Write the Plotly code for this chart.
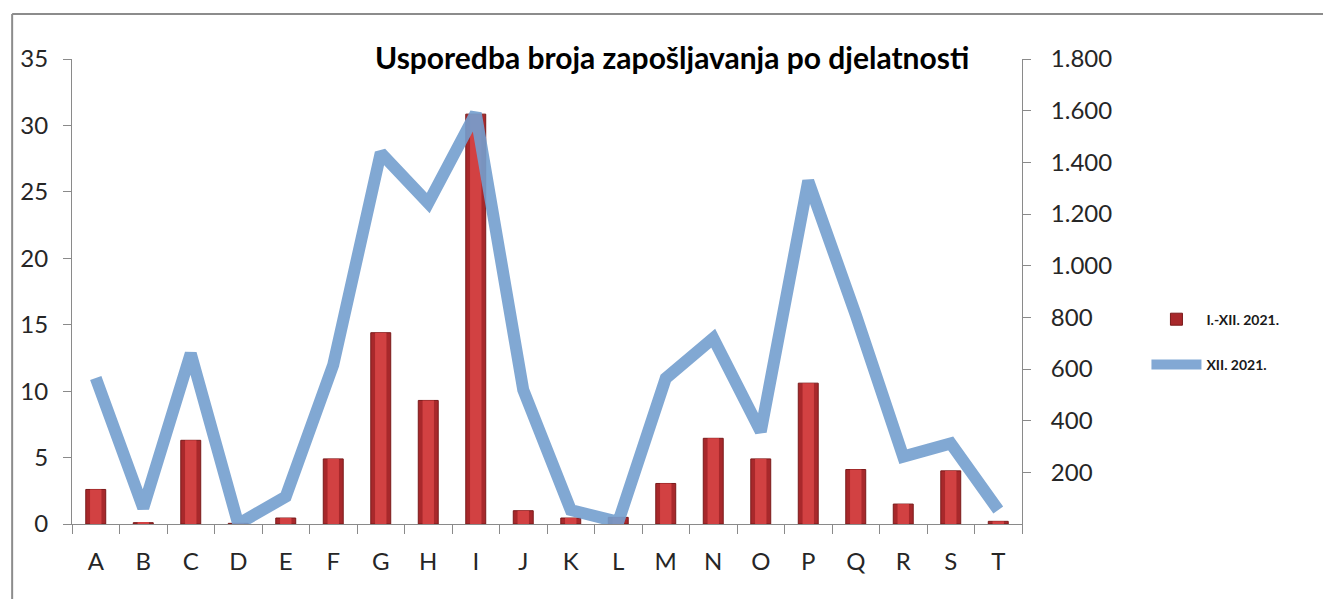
import plotly.graph_objects as go

categories = list("ABCDEFGHIJKLMNOPQRST")
bars_i_xii = [2.6, 0.1, 6.3, 0.05, 0.45, 4.9, 14.4, 9.3, 30.85, 1.0, 0.45, 0.5, 3.05, 6.45, 4.9, 10.6, 4.1, 1.5, 4.0, 0.2]
line_xii = [565, 62, 660, 0, 106, 616, 1437, 1242, 1590, 519, 54, 8, 564, 719, 358, 1328, 810, 261, 312, 54]
bar_name = "I.-XII. 2021."
line_name = "XII. 2021."
title_text = "Usporedba broja zapošljavanja po djelatnosti"
left_ticks = [0, 5, 10, 15, 20, 25, 30, 35]
right_ticks = [200, 400, 600, 800, 1000, 1200, 1400, 1600, 1800]

FONT = "Lato"
AX = "#8a8a8a"
TICKFONT = dict(size=24, family=FONT, color="#262626")

fig = go.Figure()
fig.add_trace(go.Bar(
    x=categories, y=bars_i_xii, name=bar_name, width=0.42,
    marker=dict(color="#A8282B", line=dict(color="#7a1a1a", width=1)),
    legendgroup="a",
))
fig.add_trace(go.Bar(
    x=categories, y=bars_i_xii, width=0.24, showlegend=False, hoverinfo="skip",
    marker=dict(color="#D24142", line=dict(width=0)),
))
fig.add_trace(go.Scatter(
    x=categories, y=line_xii, name=line_name, yaxis="y2", mode="lines",
    line=dict(color="#749FCF", width=12), opacity=0.9, legendgroup="b",
))

fig.update_layout(
    width=1323, height=591,
    margin=dict(l=62, r=309, t=51, b=75),
    paper_bgcolor="white", plot_bgcolor="white",
    barmode="overlay", separators=",.",
    font=dict(family=FONT, color="#262626"),
    showlegend=True,
    legend=dict(x=1.131, y=0.474, xanchor="left", yanchor="top",
                font=dict(size=14, family=FONT, weight="bold", color="#1a1a1a"),
                itemwidth=50, tracegroupgap=24, bgcolor="rgba(0,0,0,0)"),
    xaxis=dict(type="category", range=[-0.5, 19.5], showline=True, linecolor=AX, linewidth=1,
               ticks="outside", ticklen=9, tickcolor=AX, tickson="boundaries",
               tickfont=TICKFONT, ticklabelstandoff=16,
               showgrid=False, zeroline=False),
    yaxis=dict(range=[0, 35], tickvals=left_ticks, showline=True, linecolor=AX, linewidth=1,
               ticks="outside", ticklen=8, tickcolor=AX, showgrid=False, zeroline=False,
               tickfont=TICKFONT, ticklabelstandoff=10),
    yaxis2=dict(range=[0, 1800], tickvals=right_ticks, tickformat=",d", overlaying="y", side="right",
                showline=True, linecolor=AX, linewidth=1, ticks="outside", ticklen=8, tickcolor=AX,
                showgrid=False, zeroline=False,
                tickfont=TICKFONT, ticklabelstandoff=15),
)

fig.add_annotation(text="<b>" + title_text + "</b>", xref="paper", yref="paper",
                   x=0.632, y=1.005, xanchor="center", yanchor="middle", showarrow=False,
                   font=dict(size=30, family=FONT, color="black"))

# outer chart frame
fig.add_shape(type="line", xref="paper", yref="paper", x0=-0.063, x1=1.4, y0=1.097, y1=1.097,
              line=dict(color="#8c8c8c", width=2))
fig.add_shape(type="line", xref="paper", yref="paper", x0=-0.063, x1=-0.063, y0=-0.2, y1=1.097,
              line=dict(color="#8c8c8c", width=2))

fig.write_html("out.html")
